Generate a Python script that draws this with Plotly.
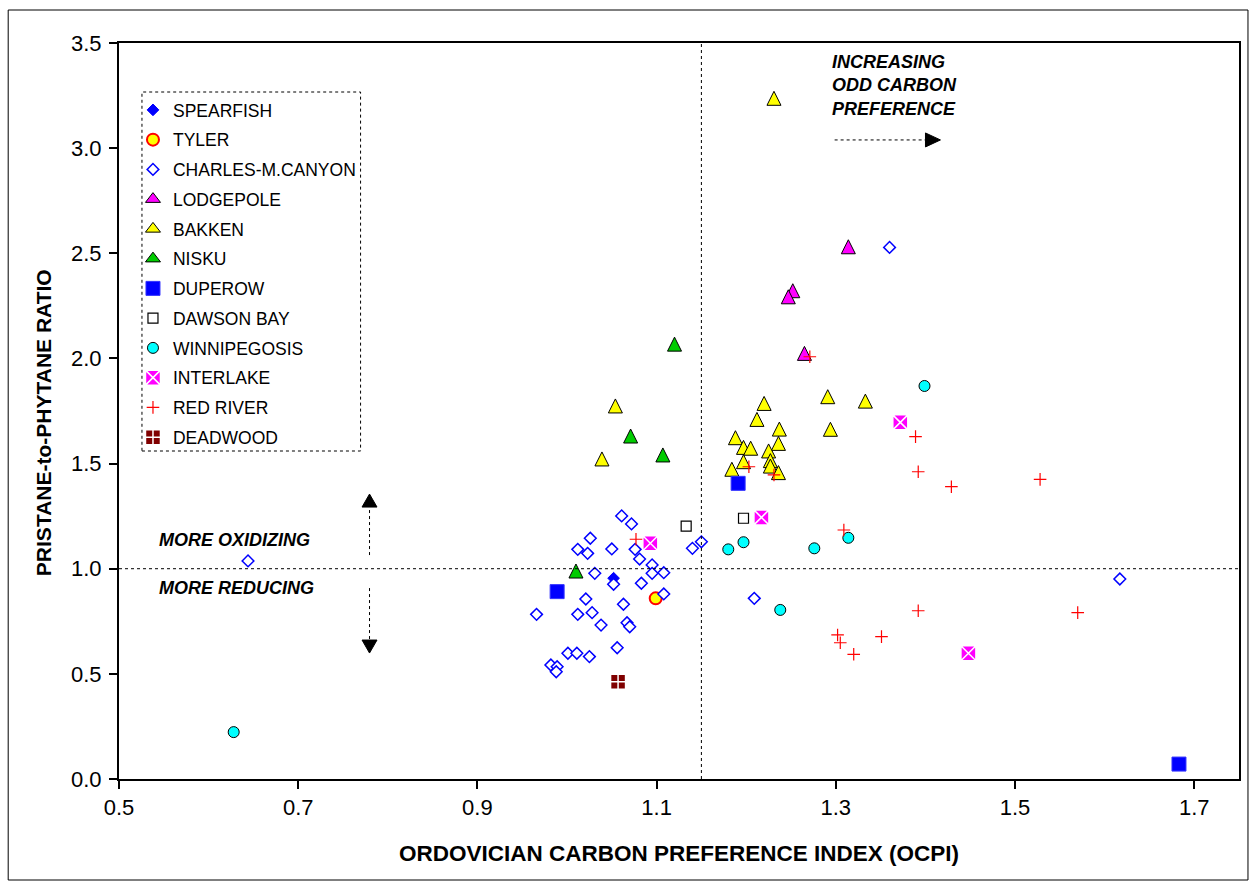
import plotly.graph_objects as go

# ---- sample values: OCPI (x) and pristane/phytane ratio (y) per formation ----
spearfish_x = [1.052]
spearfish_y = [0.955]

tyler_x = [1.099]
tyler_y = [0.859]

charles_x = [1.061, 1.072, 1.026, 1.012, 1.023, 1.050, 1.076, 1.081, 1.095, 1.095,
             1.108, 1.031, 1.052, 1.083, 1.108, 0.966, 1.021, 1.012, 1.028, 1.038,
             1.063, 1.067, 1.070, 1.056, 1.001, 1.011, 1.025, 0.982, 0.989, 0.988,
             1.140, 1.150, 0.644, 1.209, 1.360, 1.617]
charles_y = [1.251, 1.213, 1.145, 1.092, 1.073, 1.094, 1.092, 1.046, 1.018, 0.978,
             0.981, 0.978, 0.926, 0.931, 0.880, 0.783, 0.856, 0.783, 0.791, 0.732,
             0.831, 0.743, 0.724, 0.624, 0.598, 0.598, 0.582, 0.542, 0.534, 0.510,
             1.097, 1.128, 1.037, 0.859, 2.528, 0.951]

lodgepole_x = [1.314, 1.252, 1.247, 1.265]
lodgepole_y = [2.531, 2.322, 2.293, 2.024]

bakken_x = [1.231, 1.039, 1.054, 1.220, 1.212, 1.237, 1.188, 1.236, 1.197, 1.205,
            1.225, 1.197, 1.227, 1.227, 1.184, 1.236, 1.291, 1.333, 1.294]
bakken_y = [3.237, 1.522, 1.774, 1.786, 1.710, 1.664, 1.623, 1.596, 1.577, 1.573,
            1.560, 1.509, 1.514, 1.488, 1.473, 1.457, 1.818, 1.797, 1.663]

nisku_x = [1.120, 1.071, 1.107, 1.010]
nisku_y = [2.068, 1.631, 1.541, 0.989]

duperow_x = [0.989, 1.191, 1.683]
duperow_y = [0.891, 1.406, 0.071]

dawson_x = [1.133, 1.197]
dawson_y = [1.203, 1.240]

winnipegosis_x = [0.628, 1.180, 1.197, 1.276, 1.314, 1.238, 1.399]
winnipegosis_y = [0.223, 1.092, 1.126, 1.097, 1.147, 0.804, 1.869]

interlake_x = [1.093, 1.217, 1.372, 1.448]
interlake_y = [1.121, 1.244, 1.696, 0.598]

redriver_x = [1.077, 1.271, 1.203, 1.231, 1.389, 1.392, 1.429, 1.528, 1.309, 1.392,
              1.570, 1.302, 1.305, 1.320, 1.351]
redriver_y = [1.140, 2.008, 1.485, 1.446, 1.628, 1.461, 1.390, 1.425, 1.184, 0.800,
              0.791, 0.685, 0.648, 0.593, 0.677]

deadwood_x = [1.057]
deadwood_y = [0.463]

# reference lines
OCPI_SPLIT = 1.15
PRPH_SPLIT = 1.0

FONT = "Arial, Liberation Sans, sans-serif"

fig = go.Figure()

TRI = 14  # triangle size: an upward arrowhead, centred on the point


def tri_marker(fill):
    return dict(symbol="arrow-down", angle=180, standoff=TRI / 2, size=TRI,
                color=fill, line=dict(color="black", width=1))


def tri_key(fill):
    return dict(symbol="triangle-up", size=13, color=fill,
                line=dict(color="black", width=1))


series = [
    ("SPEARFISH", spearfish_x, spearfish_y,
     dict(symbol="diamond", size=9, color="#0000FF", line=dict(color="#0000FF", width=1)), None),
    ("TYLER", tyler_x, tyler_y,
     dict(symbol="circle", size=12, color="#FFFF00", line=dict(color="#FF0000", width=2)), None),
    ("CHARLES-M.CANYON", charles_x, charles_y,
     dict(symbol="diamond", size=9, color="white", line=dict(color="#0000FF", width=1.5)), None),
    ("LODGEPOLE", lodgepole_x, lodgepole_y, tri_marker("#FF00FF"), tri_key("#FF00FF")),
    ("BAKKEN", bakken_x, bakken_y, tri_marker("#FFFF00"), tri_key("#FFFF00")),
    ("NISKU", nisku_x, nisku_y, tri_marker("#00CC00"), tri_key("#00CC00")),
    ("DUPEROW", duperow_x, duperow_y,
     dict(symbol="square", size=14, color="#0000FF", line=dict(color="#3333FF", width=1)), None),
    ("DAWSON BAY", dawson_x, dawson_y,
     dict(symbol="square", size=10, color="white", line=dict(color="black", width=1.2)), None),
    ("WINNIPEGOSIS", winnipegosis_x, winnipegosis_y,
     dict(symbol="circle", size=11, color="#00FFFF", line=dict(color="black", width=1)), None),
    ("INTERLAKE", interlake_x, interlake_y,
     dict(symbol="square-x", size=15, color="#FF00FF", line=dict(color="white", width=1.5)), None),
    ("RED RIVER", redriver_x, redriver_y,
     dict(symbol="cross-thin-open", size=9, color="#FF0000", line=dict(color="#FF0000", width=1.2)), None),
    ("DEADWOOD", deadwood_x, deadwood_y,
     dict(symbol="square-cross", size=15, color="#800000", line=dict(color="white", width=1.5)), None),
]

for name, xs, ys, marker, key in series:
    if key is not None:
        # legend swatch for the triangle series
        fig.add_trace(go.Scatter(x=[None], y=[None], mode="markers", name=name,
                                 legendgroup=name, marker=key, hoverinfo="skip"))
    fig.add_trace(go.Scatter(x=xs, y=ys, mode="markers", name=name,
                             legendgroup=name, showlegend=key is None, marker=marker))

# plot geometry (pixels) used to place decorations in paper space
W, H = 1251, 881
L, R, T, B = 119, 1241, 43, 779
pw, ph = R - L, B - T


def px(xp):
    return (xp - L) / pw


def py(yp):
    return (B - yp) / ph


shapes = [
    # quadrant dividers
    dict(type="line", xref="x", yref="y", x0=OCPI_SPLIT, x1=OCPI_SPLIT, y0=0, y1=3.5,
         line=dict(color="black", width=1, dash="dot")),
    dict(type="line", xref="x", yref="y", x0=0.5, x1=1.75, y0=PRPH_SPLIT, y1=PRPH_SPLIT,
         line=dict(color="black", width=1, dash="dot")),
    # legend frame
    dict(type="rect", xref="paper", yref="paper", x0=px(142), x1=px(361), y0=py(451), y1=py(92),
         line=dict(color="black", width=1, dash="dot")),
    # outer chart frame
    dict(type="rect", xref="paper", yref="paper", x0=px(8), x1=px(1250), y0=py(880), y1=py(10),
         line=dict(color="black", width=1)),
]

# direction arrows: dotted shafts + solid heads
ax_up = 0.7796
ax_r_y = 3.039
dxp = 1 / 897.7   # data units per pixel, x
dyp = 1 / 210.3   # data units per pixel, y


def v_arrow(x, y_tail, y_tip):
    s = 1 if y_tip > y_tail else -1
    base = y_tip - s * 13 * dyp
    return [
        dict(type="line", xref="x", yref="y", x0=x, x1=x, y0=y_tail, y1=base,
             line=dict(color="black", width=1, dash="dot")),
        dict(type="path", xref="x", yref="y",
             path=f"M {x - 7.5 * dxp} {base} L {x + 7.5 * dxp} {base} L {x} {y_tip} Z",
             fillcolor="black", line=dict(color="black", width=1)),
    ]


def h_arrow(y, x_tail, x_tip):
    base = x_tip - 15 * dxp
    return [
        dict(type="line", xref="x", yref="y", x0=x_tail, x1=base, y0=y, y1=y,
             line=dict(color="black", width=1, dash="dot")),
        dict(type="path", xref="x", yref="y",
             path=f"M {base} {y - 7 * dyp} L {base} {y + 7 * dyp} L {x_tip} {y} Z",
             fillcolor="black", line=dict(color="black", width=1)),
    ]


shapes += v_arrow(ax_up, 1.065, 1.355)
shapes += v_arrow(ax_up, 0.908, 0.599)
shapes += h_arrow(ax_r_y, 1.2987, 1.4168)

note_font = dict(family=FONT, size=18, color="black")
annotations = [
    dict(x=0.5423, y=1.136, xref="x", yref="y", text="<b><i>MORE OXIDIZING</i></b>",
         showarrow=False, xanchor="left", yanchor="middle", font=note_font),
    dict(x=0.5423, y=0.908, xref="x", yref="y", text="<b><i>MORE REDUCING</i></b>",
         showarrow=False, xanchor="left", yanchor="middle", font=note_font),
    dict(x=1.294, y=3.30, xref="x", yref="y",
         text="<b><i>INCREASING<br>ODD CARBON<br>PREFERENCE</i></b>",
         showarrow=False, xanchor="left", yanchor="middle", align="left", font=note_font),
    # y-axis title
    dict(x=px(43), y=py(423), xref="paper", yref="paper", textangle=-90,
         text="<b>PRISTANE-to-PHYTANE RATIO</b>", showarrow=False,
         xanchor="center", yanchor="middle", font=dict(family=FONT, size=21, color="black")),
]

fig.update_layout(
    width=W, height=H,
    margin=dict(l=L, r=W - R, t=T, b=H - B),
    paper_bgcolor="white", plot_bgcolor="white",
    font=dict(family=FONT, color="black"),
    shapes=shapes, annotations=annotations,
    showlegend=True,
    legend=dict(x=px(133), y=py(92), xanchor="left", yanchor="top",
                bgcolor="rgba(0,0,0,0)", borderwidth=0,
                font=dict(family=FONT, size=17.5, color="black"),
                tracegroupgap=4, itemsizing="trace"),
)

fig.update_xaxes(range=[0.5, 1.75], tick0=0.5, dtick=0.2, tickformat=".1f",
                 showgrid=False, zeroline=False,
                 showline=True, linecolor="black", linewidth=2, mirror=True,
                 ticks="outside", ticklen=8, tickwidth=2, tickcolor="black",
                 tickfont=dict(family=FONT, size=22),
                 title=dict(text="<b>ORDOVICIAN CARBON PREFERENCE INDEX (OCPI)</b>",
                            font=dict(family=FONT, size=22.5), standoff=26))
fig.update_yaxes(range=[0, 3.5], tick0=0, dtick=0.5, tickformat=".1f",
                 showgrid=False, zeroline=False,
                 showline=True, linecolor="black", linewidth=2, mirror=True,
                 ticks="outside", ticklen=8, tickwidth=2, tickcolor="black",
                 ticklabelstandoff=3,
                 tickfont=dict(family=FONT, size=22))

fig.write_html("out.html")
